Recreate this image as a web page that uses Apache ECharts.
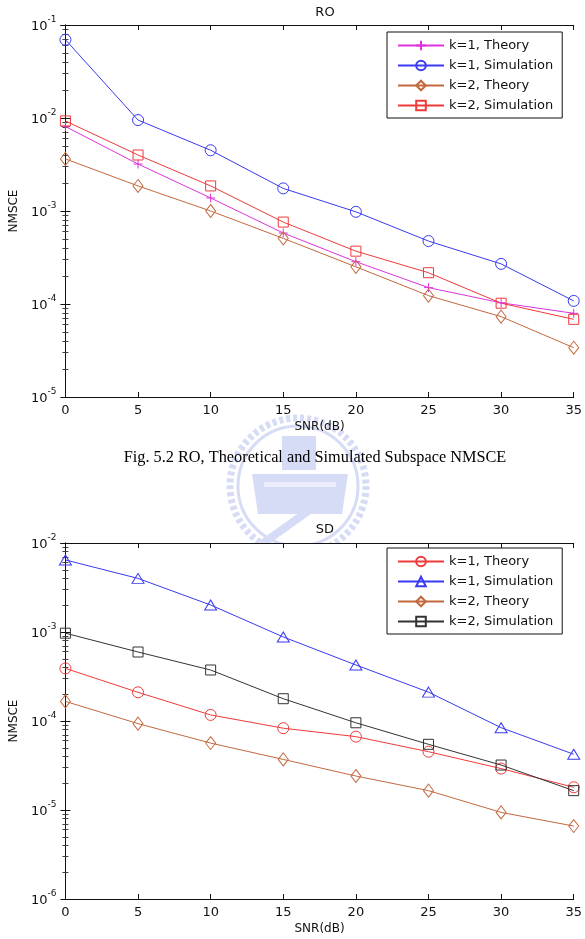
<!DOCTYPE html>
<html>
<head>
<meta charset="utf-8">
<script src="https://cdn.jsdelivr.net/npm/echarts@6/dist/echarts.min.js"></script>
<style>html,body{margin:0;padding:0;background:#fff}#c{width:585px;height:939px}</style>
</head>
<body>
<div id="c"></div>
<script>
// ---- data ----
const snr = [0, 5, 10, 15, 20, 25, 30, 35];
// RO chart
const roK1Theory = [0.0081, 0.0032, 0.00138, 0.00058, 0.000285, 0.00015, 0.000103, 0.0000794];
const roK1Sim    = [0.0695, 0.0095, 0.0045, 0.00175, 0.00098, 0.000475, 0.00027, 0.000108];
const roK2Theory = [0.00363, 0.00186, 0.001, 0.000508, 0.000251, 0.000123, 0.0000731, 0.0000339];
const roK2Sim    = [0.0093, 0.0040, 0.00186, 0.00076, 0.00037, 0.000217, 0.000102, 0.0000684];
// SD chart
const sdK1Theory = [0.00039, 0.00021, 0.000117, 0.000083, 0.0000667, 0.0000452, 0.0000292, 0.000018];
const sdK1Sim    = [0.00645, 0.0040, 0.00201, 0.00088, 0.000426, 0.000211, 0.0000841, 0.0000423];
const sdK2Theory = [0.000166, 0.0000934, 0.0000565, 0.000037, 0.0000241, 0.0000165, 0.0000094, 0.0000066];
const sdK2Sim    = [0.00097, 0.000596, 0.000374, 0.000178, 0.0000955, 0.0000547, 0.000032, 0.0000165];
const roNames = ['k=1, Theory', 'k=1, Simulation', 'k=2, Theory', 'k=2, Simulation'];
const sdNames = ['k=1, Theory ', 'k=1, Simulation ', 'k=2, Theory ', 'k=2, Simulation '];
const roTitle = 'RO', sdTitle = 'SD';
const xName = 'SNR(dB)', yName = 'NMSCE';
const caption = 'Fig. 5.2 RO, Theoretical and Simulated Subspace NMSCE';

const FONT = '"DejaVu Sans", Verdana, sans-serif';
const C = {mag:'#dd33dd', blue:'#3a3af2', brown:'#c2693e', red:'#f03a3a', black:'#333333'};
const PLUS = 'path://M5,0L5,10M0,5L10,5';

const chart = echarts.init(document.getElementById('c'), null, {renderer:'canvas'});

function pairs(v){ return snr.map((x,i)=>[x, v[i]]); }
function ser(name, data, color, symbol, size, xi, yi){
  return {
    type:'line', name, data: pairs(data), xAxisIndex: xi, yAxisIndex: yi,
    symbol, symbolSize: size, showAllSymbol: true,
    lineStyle:{color, width:1}, itemStyle:{color:'rgba(0,0,0,0)', borderColor: color, borderWidth:1},
    emphasis:{disabled:true}, animation:false, z:3
  };
}
function xAxes(grid){
  const base = {type:'value', gridIndex: grid, min:0, max:35, interval:5,
    axisLine:{show:true, lineStyle:{color:'#111', width:1}},
    axisTick:{show:true, inside:true, length:5, lineStyle:{color:'#111'}},
    splitLine:{show:false}};
  return [
    Object.assign({}, base, {position:'bottom', name:xName, nameLocation:'middle', nameGap: 24,
      nameTextStyle:{fontFamily:FONT, fontSize:12, color:'#111'},
      axisLabel:{fontFamily:FONT, fontSize:13, color:'#111', margin:7}}),
    Object.assign({}, base, {position:'top', axisLabel:{show:false}})
  ];
}
function yAxes(grid, min, max){
  const base = {type:'log', logBase:10, gridIndex:grid, min, max,
    axisLine:{show:true, lineStyle:{color:'#111', width:1}},
    axisTick:{show:true, inside:true, length:5, lineStyle:{color:'#111'}},
    minorTick:{show:true, splitNumber:9, length:3, lineStyle:{color:'#444'}},
    splitLine:{show:false}, minorSplitLine:{show:false}};
  return [
    Object.assign({}, base, {position:'left', name:yName, nameLocation:'middle', nameGap:38,
      nameTextStyle:{fontFamily:FONT, fontSize:12, color:'#111'},
      axisLabel:{fontFamily:FONT, color:'#111', margin:9,
        formatter: v => '{b|10}{e|' + Math.round(Math.log10(v)) + '}',
        rich:{b:{fontFamily:FONT, fontSize:13, color:'#111', lineHeight:13, padding:[3,0,0,0], verticalAlign:'middle'},
              e:{fontFamily:FONT, fontSize:9, color:'#111', lineHeight:9, padding:[0,0,11,0], verticalAlign:'middle'}}}}),
    Object.assign({}, base, {position:'right', axisLabel:{show:false}})
  ];
}
function legend(top, names){
  return {
    left: 387, top, orient:'vertical', data: names,
    backgroundColor:'#fff', borderColor:'#111', borderWidth:1, borderRadius:0,
    padding:[7,9,6,10], itemWidth:46, itemHeight:12, itemGap:7,
    formatter: n => n.trim(),
    textStyle:{fontFamily:FONT, fontSize:13, lineHeight:13, color:'#111', padding:[0,0,0,0]},
    selectedMode:false, z:10
  };
}

// pale watermark logo (decoration)
const LOGO = '#d6dcf6';
const logo = [
  {type:'circle', z:-5, shape:{cx:298, cy:486, r:68}, style:{fill:'none', stroke:LOGO, lineWidth:7, lineDash:[4,3]}},
  {type:'circle', z:-5, shape:{cx:298, cy:486, r:60}, style:{fill:'none', stroke:LOGO, lineWidth:3}},
  {type:'polygon', z:-5, shape:{points:[[252,474],[348,474],[342,514],[258,514]]}, style:{fill:LOGO}},
  {type:'rect', z:-5, shape:{x:264, y:482, width:72, height:5}, style:{fill:'#eceffb'}},
  {type:'rect', z:-5, shape:{x:282, y:436, width:34, height:34}, style:{fill:LOGO}},
  {type:'polyline', z:-5, shape:{points:[[262,544],[332,494]]}, style:{stroke:LOGO, lineWidth:8}}
];

const option = {
  backgroundColor:'#fff',
  animation:false,
  title:[
    {text: roTitle, left:320, top:1, textAlign:'center', textStyle:{fontFamily:FONT, fontSize:13, fontWeight:'normal', color:'#111'}},
    {text: sdTitle, left:320, top:518, textAlign:'center', textStyle:{fontFamily:FONT, fontSize:13, fontWeight:'normal', color:'#111'}}
  ],
  grid:[
    {left:63, right:8, top:25, height:372, show:true, backgroundColor:'#fff', borderWidth:0},
    {left:63, right:8, top:543, height:356, show:true, backgroundColor:'#fff', borderWidth:0}
  ],
  xAxis: xAxes(0).concat(xAxes(1)),
  yAxis: yAxes(0, 1e-5, 1e-1).concat(yAxes(1, 1e-6, 1e-2)),
  legend:[legend(32, roNames), legend(548, sdNames)],
  graphic:logo.concat([
    {type:'text', x:315, y:450, z:5, style:{text: caption, align:'center', font:'16.3px "Liberation Serif", "Times New Roman", serif', fill:'#000'}}
  ]),
  series:[
    ser(roNames[0], roK1Theory, C.mag, PLUS, 9, 0, 0),
    ser(roNames[1], roK1Sim, C.blue, 'circle', 11, 0, 0),
    ser(roNames[2], roK2Theory, C.brown, 'diamond', [10,13], 0, 0),
    ser(roNames[3], roK2Sim, C.red, 'rect', 10, 0, 0),
    ser(sdNames[0], sdK1Theory, C.red, 'circle', 11, 2, 2),
    ser(sdNames[1], sdK1Sim, C.blue, 'triangle', [12,10], 2, 2),
    ser(sdNames[2], sdK2Theory, C.brown, 'diamond', [10,13], 2, 2),
    ser(sdNames[3], sdK2Sim, C.black, 'rect', 10, 2, 2)
  ]
};
chart.setOption(option);
</script>
</body>
</html>
